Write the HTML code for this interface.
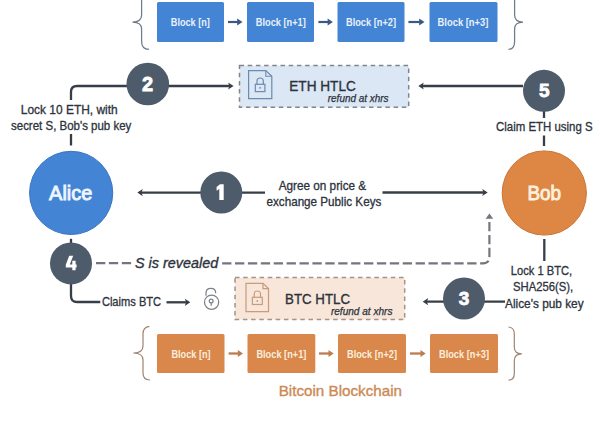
<!DOCTYPE html>
<html><head><meta charset="utf-8">
<style>
html,body{margin:0;padding:0;background:#fff;width:600px;height:423px;overflow:hidden}
svg{display:block}
text{font-family:"Liberation Sans",sans-serif}
</style></head>
<body>
<svg width="600" height="423" viewBox="0 0 600 423">


<!-- top blue blockchain -->
<g fill="#4384d4">
<rect x="157" y="2" width="67" height="40" rx="1.5"/>
<rect x="247" y="2" width="67" height="40" rx="1.5"/>
<rect x="337.5" y="2" width="67" height="40" rx="1.5"/>
<rect x="429.5" y="2" width="68" height="40" rx="1.5"/>
</g>
<g fill="#e8f1fb" font-size="11" font-weight="bold">
<text x="170.8" y="26.3" textLength="39" lengthAdjust="spacingAndGlyphs">Block [n]</text>
<text x="255.8" y="26.3" textLength="50" lengthAdjust="spacingAndGlyphs">Block [n+1]</text>
<text x="346" y="26.3" textLength="50" lengthAdjust="spacingAndGlyphs">Block [n+2]</text>
<text x="437.6" y="26.3" textLength="50.8" lengthAdjust="spacingAndGlyphs">Block [n+3]</text>
</g>
<g stroke="#3a5a85" stroke-width="2.2" fill="none">
<line x1="228" y1="22" x2="238.5" y2="22"/>
<line x1="318.4" y1="22" x2="328.8" y2="22"/>
<line x1="408.4" y1="22" x2="420" y2="22"/>
</g>
<g fill="#3a5a85">
<path d="M237.2,18.5 L242.5,22 L237.2,25.5z"/>
<path d="M327.6,18.5 L332.9,22 L327.6,25.5z"/>
<path d="M419.2,18.5 L424.5,22 L419.2,25.5z"/>
</g>
<g stroke="#6e7b8c" stroke-width="1.25" fill="none">
<path d="M149,-14 Q141.6,-13 141.6,-5 L141.6,15 Q141.6,22 132.5,22 Q141.6,22 141.6,29 L141.6,41.5 Q141.6,49.2 149,49.4"/>
<path d="M508,-14 Q514.6,-13 514.6,-5 L514.6,15 Q514.6,22 523,22 Q514.6,22 514.6,29 L514.6,41.5 Q514.6,49.2 508.5,49.4"/>
</g>

<!-- step 2 -->
<g stroke="#383e47" stroke-width="2.3" fill="none">
<path d="M71,100 L71,92 Q71,86 77,86 L231,86"/>
<path d="M523,86 L421,86"/>
<path d="M544,111 L544,118"/>
<path d="M544,135.5 L544,146"/>
<path d="M71,134 L71,145.5"/>
</g>
<g fill="#383e47">
<path d="M228.1,82.4 L233.6,86.0 L228.1,89.6 L229.4,86.0 Z"/>
<path d="M423.8,82.4 L418.3,86.0 L423.8,89.6 L422.5,86.0 Z"/>
</g>

<!-- ETH HTLC -->
<rect x="239.5" y="65.6" width="169.2" height="41.6" fill="#dbe7f4" stroke="#7f868e" stroke-width="1.5" stroke-dasharray="4.5 3.7"/>
<g stroke="#6a8ab0" stroke-width="1.2" fill="none">
<path d="M248.6,70.6 L265.8,70.6 L271.8,76.2 L271.8,98.6 L248.6,98.6 Z"/>
<rect x="255.3" y="84.3" width="9.6" height="7.3"/>
<path d="M257,84.3 L257,81 Q257,78 260.1,78 Q263.3,78 263.3,81 L263.3,84.3"/>
</g>
<path d="M265.8,70.6 L265.8,76.2 L271.8,76.2" fill="none" stroke="#6a8ab0" stroke-width="1.1"/>
<circle cx="260.1" cy="87.8" r="0.9" fill="#6a8ab0"/>
<text x="289.3" y="91.4" font-size="14.5" fill="#2c333c" stroke="#2c333c" stroke-width="0.35" textLength="66.5" lengthAdjust="spacingAndGlyphs">ETH HTLC</text>
<text x="327.8" y="101.7" font-size="10" font-style="italic" fill="#2c333c" stroke="#2c333c" stroke-width="0.25" textLength="60.7" lengthAdjust="spacingAndGlyphs">refund at xhrs</text>

<!-- step 1 lines -->
<g stroke="#383e47" stroke-width="2.3" fill="none">
<path d="M265,192.6 L139.5,192.6"/>
<path d="M382.5,192.5 L485.5,192.5"/>
<path d="M71,238.8 L71,243"/>
<path d="M71,284 L71,296 Q71,302 77,302 L100.3,302"/>
<path d="M166.5,302.3 L188,302.3"/>
<path d="M544.3,239 L544.3,261"/>
<path d="M505,301.7 L425,301.7"/>
</g>
<g fill="#383e47">
<path d="M142.8,189.0 L137.3,192.6 L142.8,196.2 L141.5,192.6 Z"/>
<path d="M482.2,188.9 L487.7,192.5 L482.2,196.1 L483.5,192.5 Z"/>
<path d="M184.8,298.7 L190.3,302.3 L184.8,305.9 L186.1,302.3 Z"/>
<path d="M428.2,298.1 L422.7,301.7 L428.2,305.3 L426.9,301.7 Z"/>
</g>

<!-- numbered circles -->
<g fill="#4d5b6a">
<circle cx="147.8" cy="84" r="21.3"/>
<circle cx="544" cy="90.8" r="21"/>
<circle cx="221.3" cy="192.5" r="21"/>
<circle cx="71" cy="263.4" r="21"/>
<circle cx="464" cy="298.5" r="21"/>
</g>
<g fill="#ffffff" font-size="19" font-weight="bold" text-anchor="middle" stroke="#ffffff" stroke-width="0.8">
<text x="147.6" y="91.1" font-size="20">2</text>
<text x="544.3" y="97.3">5</text>
<text x="464" y="304.8">3</text>
</g>

<path d="M219.3,200 L219.3,189 L216.6,190.8 L216.6,187 L220,184.3 L223.7,184.3 L223.7,200 Z" fill="#fff"/>
<path d="M69.2,255.8 L73.2,255.8 L69.8,264.6 L72.3,264.6 L72.3,260.8 L75.6,260.8 L75.6,264.6 L76.6,264.6 L76.6,267.6 L75.6,267.6 L75.6,270.3 L72.3,270.3 L72.3,267.6 L65.8,267.6 L65.8,264.8 Z" fill="#fff"/>
<!-- side labels -->
<g fill="#2c333c" font-size="12.2" stroke="#2c333c" stroke-width="0.3">
<text x="20.8" y="113.6" textLength="96.9" lengthAdjust="spacingAndGlyphs">Lock 10 ETH,  with</text>
<text x="11" y="129.7" textLength="120.3" lengthAdjust="spacingAndGlyphs">secret S, Bob's pub key</text>
<text x="496" y="130.9" textLength="96.6" lengthAdjust="spacingAndGlyphs">Claim ETH using S</text>
<text x="278.7" y="189.5" textLength="87.5" lengthAdjust="spacingAndGlyphs">Agree on price &amp;</text>
<text x="266.5" y="206" textLength="114.8" lengthAdjust="spacingAndGlyphs">exchange Public Keys</text>
<text x="510.8" y="274.7" textLength="61.4" lengthAdjust="spacingAndGlyphs">Lock 1 BTC,</text>
<text x="513" y="291.3" textLength="60.2" lengthAdjust="spacingAndGlyphs">SHA256(S),</text>
<text x="505" y="307.8" textLength="78.6" lengthAdjust="spacingAndGlyphs">Alice's pub key</text>
<text x="101.9" y="306.2" textLength="59.2" lengthAdjust="spacingAndGlyphs">Claims BTC</text>
</g>

<!-- Alice / Bob -->
<circle cx="71.15" cy="192.9" r="41.6" fill="#4384d4" stroke="#3b74c0" stroke-width="1"/>
<circle cx="544.3" cy="193" r="42.1" fill="#de8745" stroke="#c77537" stroke-width="1"/>
<text x="49.1" y="199.8" font-size="20.5" fill="#eef5fd" stroke="#eef5fd" stroke-width="0.9" textLength="43.2" lengthAdjust="spacingAndGlyphs">Alice</text>
<text x="527.4" y="199.8" font-size="20.5" fill="#fdf0dc" stroke="#fdf0dc" stroke-width="0.9" textLength="33.6" lengthAdjust="spacingAndGlyphs">Bob</text>

<!-- S is revealed dashed -->
<g stroke="#72777d" stroke-width="2.2" fill="none" stroke-dasharray="9.3 3.6">
<path d="M96,263.2 L132,263.2"/>
<path d="M489.4,222 L489.4,257 Q489.4,263.4 483,263.4 L219,263.4"/>
</g>
<path d="M485.6,218.8 L489.4,213.6 L493.2,218.8z" fill="#72777d"/>
<text x="135" y="268" font-size="14.8" font-style="italic" fill="#2c333c" stroke="#2c333c" stroke-width="0.35" textLength="83.3" lengthAdjust="spacingAndGlyphs">S is revealed</text>

<!-- open padlock -->
<g stroke="#7d8288" stroke-width="1.25" fill="none">
<circle cx="211.6" cy="302.2" r="7.1"/>
<path d="M206,295.8 L206,293.2 Q206,288.4 210.85,288.4 Q215.7,288.4 215.7,293.2"/>
<circle cx="211.2" cy="301" r="1.9"/>
<path d="M211.2,302.9 L211.2,305.8"/>
</g>
<!-- BTC HTLC -->
<rect x="235" y="277.6" width="169.7" height="42" fill="#f7e6d9" stroke="#a39487" stroke-width="1.5" stroke-dasharray="4.5 3.7"/>
<g stroke="#c99c7a" stroke-width="1.2" fill="none">
<path d="M246,283.3 L263,283.3 L268.5,288.6 L268.5,311.6 L246,311.6 Z"/>
<path d="M263,283.3 L263,288.6 L268.5,288.6"/>
<rect x="252.4" y="297.3" width="9.9" height="7.2"/>
<path d="M254.2,297.3 L254.2,294 Q254.2,291 257.35,291 Q260.5,291 260.5,294 L260.5,297.3"/>
</g>
<circle cx="257.3" cy="301" r="0.9" fill="#c99c7a"/>
<text x="285.1" y="303.9" font-size="14.5" fill="#2c333c" stroke="#2c333c" stroke-width="0.35" textLength="64.9" lengthAdjust="spacingAndGlyphs">BTC HTLC</text>
<text x="330.9" y="314.8" font-size="10" font-style="italic" fill="#2c333c" stroke="#2c333c" stroke-width="0.25" textLength="61.6" lengthAdjust="spacingAndGlyphs">refund at xhrs</text>

<!-- bottom orange blockchain -->
<g fill="#d9874a">
<rect x="157" y="334" width="67.5" height="39" rx="1.5"/>
<rect x="247.5" y="334" width="67.8" height="39" rx="1.5"/>
<rect x="338" y="334" width="68" height="39" rx="1.5"/>
<rect x="430" y="334" width="68" height="39" rx="1.5"/>
</g>
<g fill="#fbeedd" font-size="11" font-weight="bold">
<text x="171.4" y="358" textLength="39.2" lengthAdjust="spacingAndGlyphs">Block [n]</text>
<text x="256.4" y="358" textLength="50" lengthAdjust="spacingAndGlyphs">Block [n+1]</text>
<text x="347" y="358" textLength="50" lengthAdjust="spacingAndGlyphs">Block [n+2]</text>
<text x="439" y="358" textLength="50" lengthAdjust="spacingAndGlyphs">Block [n+3]</text>
</g>
<g stroke="#bd7c52" stroke-width="2.3" fill="none">
<line x1="228.6" y1="353.5" x2="239" y2="353.5"/>
<line x1="319" y1="353.5" x2="329.5" y2="353.5"/>
<line x1="410" y1="353.5" x2="421" y2="353.5"/>
</g>
<g fill="#bd7c52">
<path d="M237.8,350 L243,353.5 L237.8,357z"/>
<path d="M328.5,350 L333.7,353.5 L328.5,357z"/>
<path d="M420.5,350 L425.7,353.5 L420.5,357z"/>
</g>
<g stroke="#9d8473" stroke-width="1.2" fill="none">
<path d="M149.4,326.4 Q143,327 143,334 L143,346 Q143,353 133.4,353 Q143,353 143,360 L143,373 Q143,380 150,380"/>
<path d="M508.5,327 Q514.3,327.5 514.3,334 L514.3,347 Q514.3,353.8 521.8,353.8 Q514.3,353.8 514.3,360.5 L514.3,373.5 Q514.3,380.2 508.5,380.2"/>
</g>
<text x="278.7" y="396.1" font-size="14.8" fill="#cc8955" stroke="#cc8955" stroke-width="0.35" textLength="123.4" lengthAdjust="spacingAndGlyphs">Bitcoin Blockchain</text>
</svg>
</body></html>
